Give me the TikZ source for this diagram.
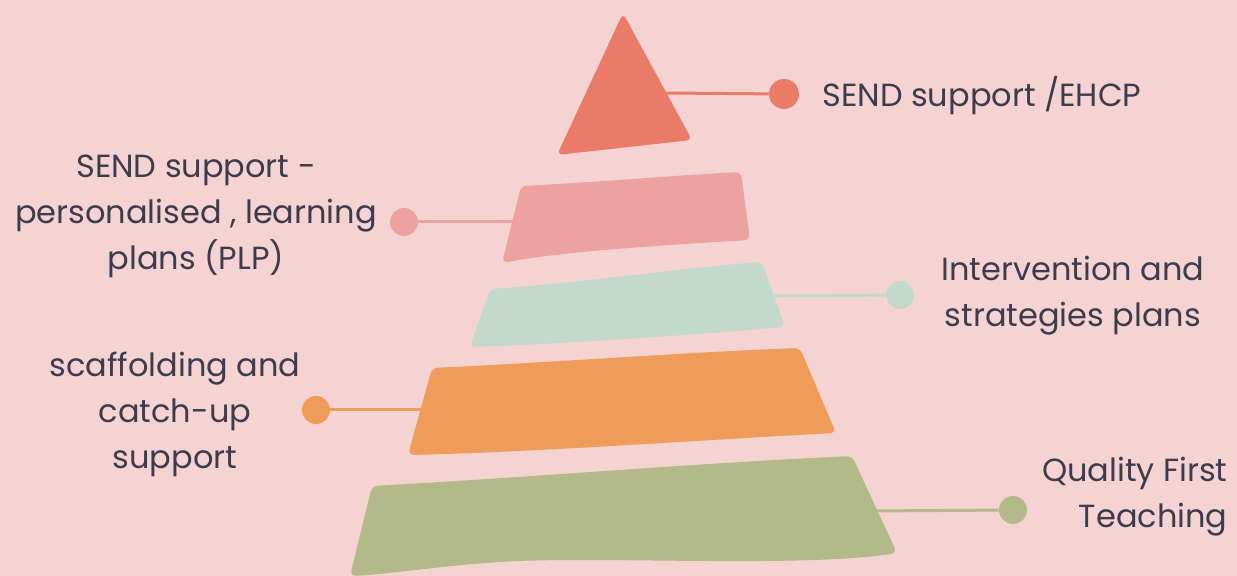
\documentclass[tikz,border=0pt]{standalone}
\usepackage{fontspec}
\setmainfont{Poppins}
\usepackage{tikz}
\definecolor{bg}{HTML}{F6D3D3}
\definecolor{tip}{HTML}{E97B68}
\definecolor{rose}{HTML}{ECA2A0}
\definecolor{mint}{HTML}{C3D9CC}
\definecolor{peach}{HTML}{EF9C5A}
\definecolor{sage}{HTML}{B1BA88}
\definecolor{ink}{HTML}{3C3C4C}
\tikzset{
  dot/.style={circle, fill=#1, draw=none, minimum size=14pt, inner sep=0pt},
  lbl/.style={text=ink, font=\fontsize{16}{23}\selectfont, inner sep=0pt},
  link/.style={line width=1.5pt, color=#1},
  layer/.style={fill=#1, draw=none, rounded corners=3pt}
}

\begin{document}
\begin{tikzpicture}[x=0.5pt, y=-0.5pt]
\fill[bg] (0,0) rectangle (1237,576);
\useasboundingbox (0,0) rectangle (1237,576);
% ends of the connectors inside the layers
\coordinate (tipin) at (664,93);
\coordinate (rosein) at (522,222);
\coordinate (mintin) at (770,296);
\coordinate (peachin) at (440,410);
\coordinate (sagein) at (870,511);
% dots
 \node[dot=tip, minimum size=15pt] (tipdot) at (784,94) {};
 \node[dot=rose] (rosedot) at (404,222) {};
 \node[dot=mint] (mintdot) at (900,295) {};
 \node[dot=peach] (peachdot) at (316,410) {};
 \node[dot=sage] (sagedot) at (1013,510) {};
% labels
 \node[lbl, anchor=west] (tiptext) at (822,96) {SEND support /EHCP};
 \node[lbl, align=center] (rosetext) at (196,216) {SEND support -\\personalised , learning\\plans (PLP)};
 \node[lbl, align=center] (minttext) at (1073,296) {Intervention and\\strategies plans};
 \node[lbl, align=center] (peachtext) at (175,414) {scaffolding and\\catch-up\\support};
 \node[lbl, align=right, anchor=east] (sagetext) at (1228,497) {Quality First\\Teaching};
% connectors
 \draw[link=tip] (tipin) -- (tipdot);
 \draw[link=rose] (rosedot) -- (rosein);
 \draw[link=mint] (mintin) -- (mintdot);
 \draw[link=peach] (peachdot) -- (peachin);
 \draw[link=sage] (sagein) -- (sagedot);
% layers of the pyramid
 \filldraw[layer=tip] (623,13) -- (692,140) -- (557,155) -- cycle;
 \filldraw[layer=rose] (521,186) .. controls (600,182) and (680,175) .. (741,172) -- (750,240)
   .. controls (650,246) and (560,252) .. (502,263) -- cycle;
 \filldraw[layer=mint] (490,289) .. controls (580,283) and (680,268) .. (762,262) -- (785,327)
   .. controls (680,336) and (560,344) .. (470,347) -- cycle;
 \filldraw[layer=peach] (432,368) .. controls (560,362) and (690,352) .. (800,348) -- (836,433)
   .. controls (700,440) and (540,452) .. (408,455) -- cycle;
 \filldraw[layer=sage] (372,486) .. controls (520,478) and (700,463) .. (852,456) -- (897,553)
   .. controls (800,568) and (600,556) .. (500,562) .. controls (440,566) and (390,574) .. (350,576) -- cycle;
\end{tikzpicture}
\end{document}
